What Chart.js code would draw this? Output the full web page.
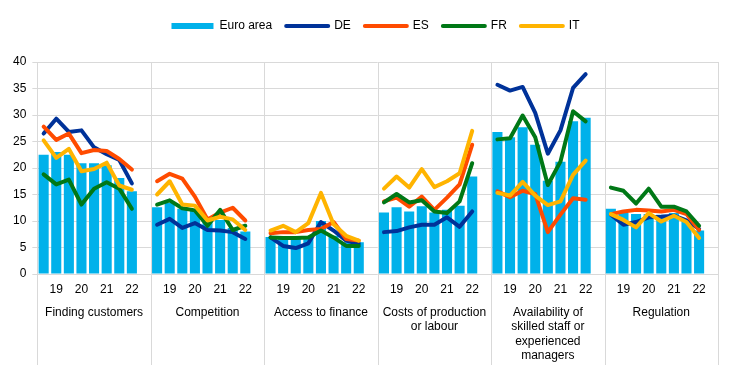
<!DOCTYPE html>
<html>
<head>
<meta charset="utf-8">
<script src="https://cdn.jsdelivr.net/npm/chart.js@4.4.1/dist/chart.umd.min.js"></script>
<style>
  html, body { margin: 0; padding: 0; background: #fff; }
  #wrap { width: 742px; height: 374px; }
</style>
</head>
<body>
<div id="wrap"><canvas id="chart"></canvas></div>
<script>
// groups of obstacles, 8 survey rounds each
let groups = [
    ['Finding customers'],
    ['Competition'],
    ['Access to finance'],
    ['Costs of production', 'or labour'],
    ['Availability of', 'skilled staff or', 'experienced', 'managers'],
    ['Regulation']
];
let periods = ['', '19', '', '20', '', '21', '', '22'];

let euroArea = [
    [22.5, 23.0, 22.5, 20.9, 20.9, 20.5, 18.1, 15.6],
    [12.6, 13.4, 12.3, 11.9, 10.2, 10.2, 8.7, 8.0],
    [7.0, 6.6, 6.6, 6.8, 10.0, 7.2, 6.0, 6.0],
    [11.6, 12.6, 11.8, 12.8, 11.6, 12.1, 12.9, 18.4],
    [26.8, 25.8, 27.7, 24.4, 17.6, 21.2, 28.8, 29.5],
    [12.3, 11.5, 11.3, 11.3, 11.2, 11.5, 10.2, 8.2]
];
let de = [
    [26.5, 29.3, 26.8, 27.1, 23.9, 22.6, 21.5, 17.1],
    [9.3, 10.4, 8.7, 9.6, 8.3, 8.2, 7.9, 6.6],
    [6.9, 5.3, 4.9, 5.8, 9.8, 8.2, 6.3, 5.7],
    [7.9, 8.1, 8.8, 9.3, 9.3, 10.7, 8.9, 11.8],
    [35.7, 34.6, 35.3, 30.4, 22.7, 27.1, 35.1, 37.7],
    [11.2, 9.3, 9.8, 10.7, 10.8, 11.0, 10.1, 8.5]
];
let es = [
    [27.8, 25.3, 26.5, 22.8, 23.4, 23.2, 21.7, 19.7],
    [17.5, 18.9, 18.0, 14.6, 10.3, 11.6, 12.5, 10.1],
    [7.7, 7.9, 7.9, 8.3, 8.5, 9.8, 6.6, 6.3],
    [13.7, 14.4, 12.7, 14.6, 12.1, 14.4, 16.9, 24.4],
    [15.6, 14.5, 15.7, 15.1, 7.9, 11.2, 14.3, 14.0],
    [11.3, 11.8, 12.1, 12.0, 11.8, 12.1, 11.3, 8.3]
];
let fr = [
    [18.8, 16.9, 17.8, 13.1, 16.1, 17.3, 16.1, 12.3],
    [13.1, 13.9, 12.4, 12.0, 9.1, 12.1, 8.3, 9.1],
    [6.9, 6.8, 6.8, 6.9, 8.2, 6.9, 5.3, 5.3],
    [13.5, 15.1, 13.5, 13.9, 11.8, 11.5, 13.7, 20.9],
    [25.4, 25.6, 29.9, 25.8, 16.8, 21.2, 30.7, 28.8],
    [16.3, 15.7, 13.3, 16.1, 12.7, 12.7, 11.8, 9.1]
];
let it = [
    [25.2, 21.9, 23.6, 19.4, 19.8, 21.0, 16.7, 15.9],
    [15.0, 17.5, 13.1, 12.9, 10.1, 10.8, 10.3, 8.3],
    [8.2, 9.1, 7.9, 9.6, 15.3, 9.4, 7.2, 6.3],
    [16.1, 18.4, 16.3, 19.8, 16.4, 17.5, 19.0, 27.0],
    [15.3, 14.8, 17.4, 14.8, 13.0, 13.7, 18.7, 21.4],
    [11.3, 10.2, 8.8, 11.5, 9.9, 11.0, 9.8, 6.8]
];

let yTicks = {min: 0, max: 40, step: 5};

// one empty slot after each group so the lines break
let labels = [];
groups.forEach(function() { labels.push(...periods, ''); });

function withGaps(rows) {
    let out = [];
    rows.forEach(function(r) { out.push(...r, null); });
    return out;
}

let gridColor = '#d9d9d9';
let textColor = '#000';

function lineSet(label, rows, color, order) {
    return {
        type: 'line',
        label: label,
        data: withGaps(rows),
        borderColor: color,
        backgroundColor: color,
        borderWidth: 4,
        pointRadius: 0,
        pointHoverRadius: 0,
        tension: 0,
        borderJoinStyle: 'round',
        borderCapStyle: 'round',
        order: order
    };
}

// vertical lines between the groups, running down through the labels
let dividers = {
    id: 'dividers',
    beforeDatasetsDraw(chart) {
        let x = chart.scales.x;
        let bottom = chart.scales.x2.bottom + 1;
        let ctx = chart.ctx;
        ctx.save();
        ctx.strokeStyle = gridColor;
        ctx.lineWidth = 1;
        for (let g = 0; g <= groups.length; g++) {
            let px = Math.round(x.left + x.width * g / groups.length) + 0.5;
            ctx.beginPath();
            ctx.moveTo(px, chart.chartArea.top);
            ctx.lineTo(px, bottom);
            ctx.stroke();
        }
        ctx.restore();
    }
};

// more room under the legend, and centre it over the plot
let legendSpace = {
    id: 'legendSpace',
    beforeInit(chart) {
        let legend = chart.legend;
        let fit = legend.fit;
        legend.fit = function() {
            fit.call(this);
            this.height += 20;
        };
        let draw = legend.draw;
        legend.draw = function() {
            let ctx = this.ctx;
            ctx.save();
            ctx.translate(13, 0);
            draw.call(this);
            ctx.restore();
        };
    }
};

Chart.defaults.font.family = '"Liberation Sans", Arial, sans-serif';
Chart.defaults.font.size = 12;
Chart.defaults.color = textColor;

let config = {
    data: {
        labels: labels,
        datasets: [
            {
                type: 'bar',
                label: 'Euro area',
                data: withGaps(euroArea),
                backgroundColor: '#00b1ea',
                borderWidth: 0,
                barPercentage: 0.8,
                categoryPercentage: 1.0,
                order: 5
            },
            lineSet('DE', de, '#003299', 4),
            lineSet('ES', es, '#ff4b00', 3),
            lineSet('FR', fr, '#007816', 2),
            lineSet('IT', it, '#ffb400', 1)
        ]
    },
    options: {
        responsive: true,
        maintainAspectRatio: false,
        animation: false,
        layout: {
            padding: { top: 6, left: 7, right: 24, bottom: 10 }
        },
        plugins: {
            tooltip: { enabled: false },
            legend: {
                position: 'top',
                reverse: true,
                labels: {
                    usePointStyle: true,
                    pointStyleWidth: 42,
                    boxHeight: 6,
                    padding: 14,
                    color: textColor,
                    generateLabels: function(chart) {
                        let items = Chart.defaults.plugins.legend.labels.generateLabels(chart);
                        items.forEach(function(item) {
                            if (item.text === 'Euro area') {
                                item.pointStyle = 'rect';
                                item.lineWidth = 0;
                            } else {
                                item.pointStyle = 'line';
                                item.lineWidth = 4;
                                item.lineCap = 'round';
                            }
                        });
                        return items;
                    }
                }
            }
        },
        scales: {
            x: {
                type: 'category',
                offset: true,
                grid: { display: false },
                border: { display: false },
                ticks: {
                    autoSkip: false,
                    maxRotation: 0,
                    padding: 0,
                    color: textColor
                }
            },
            x2: {
                type: 'category',
                position: 'bottom',
                labels: groups,
                offset: true,
                grid: { display: false },
                border: { display: false },
                ticks: {
                    autoSkip: false,
                    maxRotation: 0,
                    padding: 1,
                    color: textColor
                }
            },
            y: {
                min: yTicks.min,
                max: yTicks.max,
                border: { display: false },
                grid: {
                    color: gridColor,
                    tickLength: 5
                },
                ticks: {
                    stepSize: yTicks.step,
                    padding: 6,
                    color: textColor
                }
            }
        }
    },
    plugins: [dividers, legendSpace]
};

new Chart(document.getElementById('chart'), config);
</script>
</body>
</html>
